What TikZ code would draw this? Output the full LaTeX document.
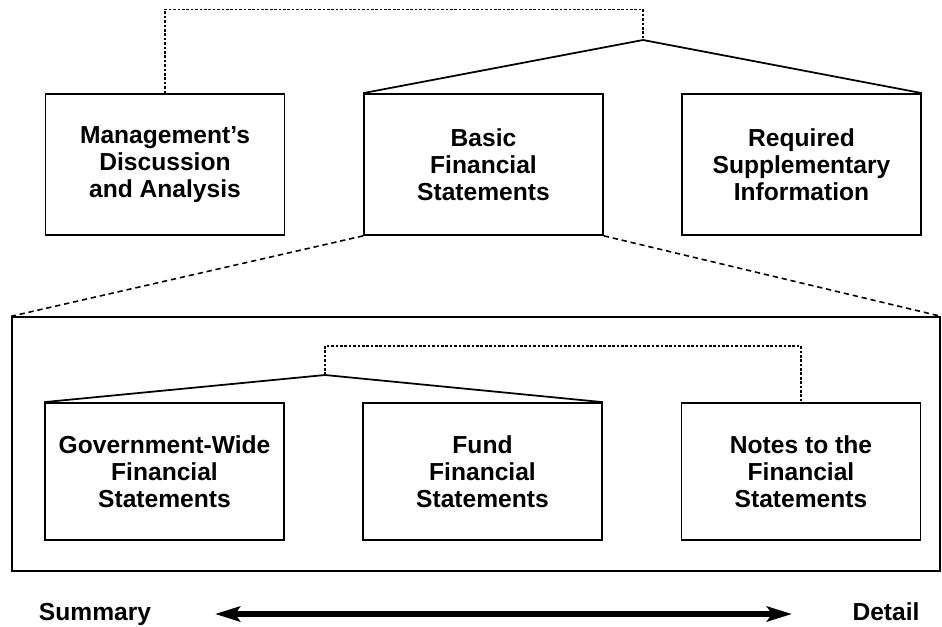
\documentclass[tikz,border=0pt]{standalone}
\usepackage{fontspec}
\setmainfont{Liberation Sans}
\usepackage{tikz}
\usetikzlibrary{arrows.meta}

\begin{document}
\begin{tikzpicture}[x=0.02cm, y=-0.02cm,
    report/.style={draw, line width=1pt, rectangle, align=center,
        minimum width=4.78cm, minimum height=2.82cm, inner sep=0pt,
        font=\fontsize{14}{15.5}\selectfont\bfseries},
    part/.style={report, minimum height=2.74cm},
    link/.style={line width=1pt},
    dotlink/.style={line width=0.6pt, dash pattern=on 1.5pt off 1pt},
    zoomlink/.style={line width=0.9pt, dash pattern=on 3pt off 2.2pt},
    label/.style={font=\fontsize{14}{15.5}\selectfont\bfseries, inner sep=0pt, anchor=base}]
    \useasboundingbox (0,0) rectangle (942,626);

    \node[report] (mda)  at (165,164.5)   {Management's\\Discussion\\and Analysis};
    \node[report] (bfs)  at (483.5,164.5) {Basic\\Financial\\Statements};
    \node[report] (rsi)  at (801.5,164.5) {Required\\Supplementary\\Information};
    \node[draw, line width=0.9pt, minimum width=18.56cm, minimum height=5.08cm,
          inner sep=0pt] (detail) at (476,444) {};
    \node[part]   (gwfs) at (164.5,471.5) {Government-Wide\\Financial\\Statements};
    \node[part]   (ffs)  at (482.5,471.5) {Fund\\Financial\\Statements};
    \node[part]   (nfs)  at (801,471.5)   {Notes to the\\Financial\\Statements};
    \node[label]  (summary) at (95,620)  {Summary};
    \node[label]  (detailtext) at (886,620) {Detail};

    \coordinate (top)   at (643,40);
    \coordinate (inner) at (325,375);
    \coordinate (arrL)  at (215,614);
    \coordinate (arrR)  at (792,614);

    % required parts of the annual report
    \draw[dotlink] (mda.north) -- ++(0,-84) -| (top);
    \draw[link] (bfs.north west) -- (top) -- (rsi.north east);

    % what the basic statements hold
    \draw[zoomlink] (bfs.south west) -- (detail.north west);
    \draw[zoomlink] (bfs.south east) -- (detail.north east);
    \draw[link] (gwfs.north west) -- (inner) -- (ffs.north east);
    \draw[dotlink] (inner) -- ++(0,-29) -| (nfs.north);

    % summary to detail
    \draw[line width=3.8pt, {Stealth[length=0.5cm,width=0.3cm,inset=0.1cm]}-{Stealth[length=0.5cm,width=0.3cm,inset=0.1cm]}]
        (arrL) -- (arrR);
\end{tikzpicture}
\end{document}
